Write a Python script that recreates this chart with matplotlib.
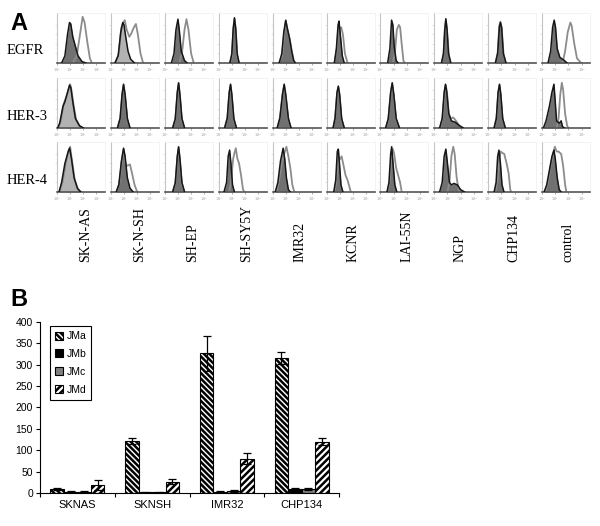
import matplotlib.pyplot as plt
import numpy as np

# ---- panel A: flow histograms (x in decades, y relative) ----
cell_lines = ['SK-N-AS', 'SK-N-SH', 'SH-EP', 'SH-SY5Y', 'IMR32', 'KCNR',
              'LAI-55N', 'NGP', 'CHP134', 'control']
receptors = ['EGFR', 'HER-3', 'HER-4']

egfr_filled = [
    [(0.35, 0), (0.6, 0.15), (0.8, 0.6), (0.95, 0.85), (1.05, 0.82), (1.2, 0.55), (1.4, 0.35), (1.6, 0.15), (1.9, 0.03), (2.2, 0)],
    [(0.3, 0), (0.55, 0.15), (0.75, 0.65), (0.9, 0.85), (1.0, 0.8), (1.1, 0.6), (1.3, 0.25), (1.5, 0.08), (1.8, 0)],
    [(0.5, 0), (0.7, 0.2), (0.85, 0.7), (1.0, 0.92), (1.1, 0.7), (1.25, 0.25), (1.5, 0.05), (1.7, 0)],
    [(0.85, 0), (1.0, 0.2), (1.1, 0.7), (1.2, 0.95), (1.3, 0.7), (1.4, 0.2), (1.55, 0)],
    [(0.5, 0), (0.7, 0.2), (0.85, 0.65), (1.0, 0.9), (1.1, 0.75), (1.3, 0.5), (1.45, 0.25), (1.6, 0.05), (1.75, 0)],
    [(0.6, 0), (0.75, 0.3), (0.88, 0.8), (0.95, 0.88), (1.05, 0.6), (1.2, 0.15), (1.35, 0)],
    [(0.55, 0), (0.72, 0.3), (0.85, 0.9), (0.95, 0.8), (1.05, 0.35), (1.2, 0.05), (1.35, 0)],
    [(0.55, 0), (0.7, 0.2), (0.8, 0.7), (0.88, 0.93), (0.97, 0.7), (1.08, 0.2), (1.25, 0)],
    [(0.55, 0), (0.72, 0.2), (0.85, 0.75), (0.93, 0.85), (1.02, 0.75), (1.15, 0.2), (1.35, 0)],
    [(0.45, 0), (0.65, 0.25), (0.8, 0.75), (0.92, 0.9), (1.02, 0.75), (1.15, 0.3), (1.35, 0.12), (1.55, 0.08), (1.7, 0.05), (1.9, 0)],
]
egfr_open = [
    [(1.2, 0), (1.5, 0.15), (1.75, 0.6), (1.95, 0.97), (2.1, 0.85), (2.3, 0.45), (2.5, 0.1), (2.65, 0)],
    [(0.35, 0), (0.6, 0.2), (0.8, 0.75), (0.95, 0.85), (1.05, 0.9), (1.2, 0.7), (1.4, 0.55), (1.55, 0.62), (1.75, 0.75), (1.9, 0.82), (2.05, 0.6), (2.25, 0.2), (2.45, 0)],
    [(1.1, 0), (1.3, 0.2), (1.5, 0.7), (1.65, 0.92), (1.8, 0.7), (2.0, 0.2), (2.2, 0)],
    [(0.85, 0), (1.0, 0.15), (1.12, 0.75), (1.2, 0.93), (1.28, 0.75), (1.42, 0.15), (1.55, 0)],
    [(0.5, 0), (0.72, 0.15), (0.88, 0.6), (1.0, 0.88), (1.12, 0.72), (1.32, 0.48), (1.48, 0.22), (1.65, 0)],
    [(0.6, 0), (0.78, 0.3), (0.92, 0.75), (1.0, 0.72), (1.12, 0.75), (1.25, 0.6), (1.4, 0.2), (1.6, 0)],
    [(0.95, 0), (1.1, 0.2), (1.25, 0.7), (1.4, 0.8), (1.5, 0.75), (1.62, 0.4), (1.75, 0.05), (1.85, 0)],
    [(0.55, 0), (0.7, 0.18), (0.8, 0.72), (0.88, 0.9), (0.97, 0.68), (1.1, 0.18), (1.25, 0)],
    [(0.55, 0), (0.72, 0.22), (0.84, 0.78), (0.93, 0.87), (1.03, 0.72), (1.17, 0.18), (1.35, 0)],
    [(1.45, 0), (1.6, 0.05), (1.75, 0.25), (1.95, 0.65), (2.15, 0.85), (2.25, 0.78), (2.45, 0.4), (2.65, 0.1), (2.9, 0.02), (3.0, 0)],
]

her3_filled = [
    [(0.05, 0), (0.2, 0.1), (0.45, 0.45), (0.6, 0.55), (0.8, 0.75), (0.95, 0.9), (1.05, 0.85), (1.2, 0.55), (1.4, 0.2), (1.7, 0.05), (2.0, 0)],
    [(0.5, 0), (0.7, 0.2), (0.85, 0.7), (0.96, 0.92), (1.08, 0.7), (1.25, 0.2), (1.45, 0)],
    [(0.6, 0), (0.8, 0.2), (0.95, 0.75), (1.05, 0.95), (1.15, 0.7), (1.3, 0.2), (1.5, 0)],
    [(0.45, 0), (0.65, 0.2), (0.8, 0.75), (0.9, 0.92), (1.0, 0.7), (1.15, 0.2), (1.35, 0)],
    [(0.35, 0), (0.55, 0.2), (0.75, 0.7), (0.88, 0.92), (1.0, 0.7), (1.2, 0.2), (1.4, 0)],
    [(0.5, 0), (0.65, 0.2), (0.8, 0.75), (0.9, 0.88), (1.0, 0.7), (1.15, 0.2), (1.35, 0)],
    [(0.4, 0), (0.6, 0.2), (0.78, 0.75), (0.9, 0.95), (1.02, 0.7), (1.2, 0.2), (1.45, 0)],
    [(0.4, 0), (0.6, 0.2), (0.75, 0.75), (0.85, 0.92), (0.95, 0.75), (1.1, 0.3), (1.3, 0.15), (1.6, 0.12), (1.9, 0.05), (2.2, 0)],
    [(0.45, 0), (0.62, 0.2), (0.75, 0.75), (0.86, 0.92), (0.96, 0.7), (1.1, 0.2), (1.3, 0)],
    [(0.1, 0), (0.3, 0.15), (0.55, 0.45), (0.75, 0.75), (0.9, 0.92), (1.0, 0.55), (1.1, 0.15), (1.3, 0.1), (1.45, 0.15), (1.55, 0.03), (1.7, 0)],
]
her3_open = [
    [(0.1, 0), (0.3, 0.15), (0.5, 0.5), (0.7, 0.65), (0.9, 0.82), (1.0, 0.92), (1.1, 0.8), (1.25, 0.5), (1.45, 0.18), (1.75, 0.03), (2.0, 0)],
    [(0.5, 0), (0.72, 0.22), (0.86, 0.72), (0.97, 0.9), (1.08, 0.68), (1.25, 0.18), (1.45, 0)],
    [(0.6, 0), (0.8, 0.18), (0.95, 0.72), (1.05, 0.93), (1.15, 0.68), (1.3, 0.18), (1.5, 0)],
    [(0.45, 0), (0.66, 0.22), (0.8, 0.72), (0.9, 0.9), (1.0, 0.68), (1.15, 0.18), (1.35, 0)],
    [(0.35, 0), (0.56, 0.22), (0.76, 0.72), (0.88, 0.9), (1.0, 0.68), (1.2, 0.18), (1.4, 0)],
    [(0.5, 0), (0.66, 0.22), (0.8, 0.72), (0.9, 0.86), (1.0, 0.68), (1.15, 0.18), (1.35, 0)],
    [(0.4, 0), (0.6, 0.18), (0.78, 0.72), (0.9, 0.93), (1.02, 0.68), (1.2, 0.18), (1.45, 0)],
    [(0.45, 0), (0.62, 0.2), (0.78, 0.75), (0.88, 0.9), (0.98, 0.7), (1.1, 0.3), (1.25, 0.2), (1.45, 0.22), (1.65, 0.15), (1.9, 0.05), (2.2, 0)],
    [(0.45, 0), (0.63, 0.22), (0.76, 0.72), (0.86, 0.9), (0.96, 0.68), (1.1, 0.18), (1.3, 0)],
    [(1.1, 0), (1.25, 0.2), (1.38, 0.7), (1.5, 0.95), (1.6, 0.8), (1.75, 0.3), (1.9, 0.05), (2.0, 0)],
]

her4_filled = [
    [(0.15, 0), (0.35, 0.2), (0.6, 0.6), (0.85, 0.85), (0.96, 0.92), (1.1, 0.7), (1.3, 0.3), (1.55, 0.08), (1.8, 0)],
    [(0.4, 0), (0.6, 0.15), (0.8, 0.65), (0.96, 0.92), (1.08, 0.75), (1.25, 0.3), (1.45, 0.08), (1.7, 0)],
    [(0.6, 0), (0.8, 0.2), (0.95, 0.75), (1.05, 0.95), (1.15, 0.7), (1.3, 0.2), (1.5, 0)],
    [(0.4, 0), (0.6, 0.2), (0.72, 0.75), (0.83, 0.88), (0.93, 0.6), (1.05, 0.15), (1.2, 0)],
    [(0.2, 0), (0.4, 0.2), (0.6, 0.65), (0.8, 0.92), (0.92, 0.7), (1.05, 0.3), (1.2, 0.05), (1.35, 0)],
    [(0.55, 0), (0.7, 0.25), (0.82, 0.85), (0.9, 0.9), (1.0, 0.55), (1.1, 0.15), (1.25, 0)],
    [(0.5, 0), (0.65, 0.2), (0.78, 0.8), (0.86, 0.95), (0.96, 0.6), (1.1, 0.15), (1.25, 0)],
    [(0.4, 0), (0.6, 0.2), (0.75, 0.75), (0.88, 0.9), (1.0, 0.6), (1.15, 0.2), (1.3, 0.15), (1.5, 0.18), (1.75, 0.15), (2.0, 0.05), (2.3, 0)],
    [(0.45, 0), (0.6, 0.2), (0.72, 0.75), (0.82, 0.88), (0.93, 0.6), (1.05, 0.15), (1.2, 0)],
    [(0.15, 0), (0.35, 0.15), (0.55, 0.45), (0.75, 0.75), (0.9, 0.88), (1.0, 0.7), (1.15, 0.3), (1.3, 0.05), (1.45, 0)],
]
her4_open = [
    [(0.2, 0), (0.45, 0.25), (0.7, 0.65), (0.9, 0.88), (1.0, 0.95), (1.12, 0.7), (1.35, 0.25), (1.6, 0.05), (1.85, 0)],
    [(0.45, 0), (0.65, 0.2), (0.85, 0.7), (0.98, 0.9), (1.1, 0.6), (1.25, 0.55), (1.45, 0.58), (1.6, 0.4), (1.8, 0.15), (2.0, 0)],
    [(0.6, 0), (0.8, 0.18), (0.95, 0.72), (1.05, 0.93), (1.15, 0.68), (1.3, 0.18), (1.5, 0)],
    [(0.8, 0), (0.95, 0.25), (1.1, 0.7), (1.2, 0.82), (1.3, 0.92), (1.42, 0.7), (1.55, 0.6), (1.7, 0.35), (1.85, 0.05), (1.95, 0)],
    [(0.3, 0), (0.5, 0.25), (0.7, 0.6), (0.88, 0.8), (1.05, 0.95), (1.2, 0.75), (1.35, 0.5), (1.5, 0.15), (1.65, 0)],
    [(0.6, 0), (0.75, 0.25), (0.9, 0.65), (1.05, 0.7), (1.15, 0.75), (1.3, 0.55), (1.45, 0.35), (1.6, 0.25), (1.75, 0.1), (1.85, 0)],
    [(0.55, 0), (0.7, 0.2), (0.85, 0.75), (0.95, 0.9), (1.05, 0.8), (1.2, 0.5), (1.35, 0.35), (1.5, 0.2), (1.62, 0)],
    [(1.0, 0), (1.15, 0.2), (1.3, 0.75), (1.44, 0.95), (1.55, 0.8), (1.7, 0.3), (1.85, 0.05), (1.95, 0)],
    [(0.55, 0), (0.7, 0.25), (0.85, 0.7), (0.95, 0.85), (1.08, 0.82), (1.22, 0.8), (1.4, 0.6), (1.55, 0.4), (1.68, 0.05), (1.75, 0)],
    [(0.25, 0), (0.45, 0.2), (0.65, 0.55), (0.85, 0.8), (0.97, 0.95), (1.1, 0.85), (1.25, 0.85), (1.45, 0.8), (1.6, 0.55), (1.75, 0.15), (1.85, 0)],
]

# ---- panel B: bar chart ----
groups = ['SKNAS', 'SKNSH', 'IMR32', 'CHP134']
series_names = ['JMa', 'JMb', 'JMc', 'JMd']
jma = [10, 122, 326, 315]
jmb = [3, 2, 3, 9]
jmc = [3, 2, 5, 10]
jmd = [18, 26, 80, 120]
jma_err = [2, 7, 41, 14]
jmb_err = [1, 1, 1, 2]
jmc_err = [1, 1, 2, 2]
jmd_err = [12, 6, 13, 8]

# styles
light_fill = {(0, 1), (1, 0), (2, 0)}   # (row, col) panels with the paler fill
W, H = 600, 526
plt.rcParams['hatch.linewidth'] = 1.8

fig = plt.figure(figsize=(6, 5.26), dpi=100)


def px_axes(left, top, width, height):
    return fig.add_axes([left / W, 1 - (top + height) / H, width / W, height / H])


rows_filled = [egfr_filled, her3_filled, her4_filled]
rows_open = [egfr_open, her3_open, her4_open]
row_tops = [13, 78, 142]

for r in range(3):
    for c in range(10):
        ax = px_axes(57 + 53.9 * c, row_tops[r], 48, 50)
        fx, fy = zip(*rows_filled[r][c])
        ox, oy = zip(*rows_open[r][c])
        shade = '#b2b2b2' if (r, c) in light_fill else '#717171'
        ax.fill_between(fx, fy, 0, color=shade, lw=0, zorder=1)
        ax.plot(ox, oy, color='#8c8c8c', lw=1.3, zorder=2)
        ax.plot(fx, fy, color='#161616', lw=1.1, zorder=3)
        ax.set_xlim(0, 3.65)
        ax.set_ylim(0, 1.05)
        ax.set_xticks([0, 1, 2, 3])
        ax.set_xticklabels(['$10^0$', '$10^1$', '$10^2$', '$10^3$'], fontsize=2.5, color='#999999')
        ax.set_yticks([0.2, 0.4, 0.6, 0.8])
        ax.set_yticklabels([])
        ax.tick_params(axis='x', length=1.5, width=0.5, color='#888888', pad=1)
        ax.tick_params(axis='y', length=1.2, width=0.4, color='#cccccc')
        ax.spines['bottom'].set_color('#555555')
        ax.spines['bottom'].set_linewidth(1.2)
        ax.spines['left'].set_color('#c4c4c4')
        ax.spines['left'].set_linewidth(0.8)
        for s in ['top', 'right']:
            ax.spines[s].set_color('#efefef')
            ax.spines[s].set_linewidth(0.5)

for r, name in enumerate(receptors):
    fig.text(7 / W, 1 - (row_tops[r] + 38) / H, name, fontsize=10.5,
             family='Liberation Serif', va='center', ha='left')

for c, name in enumerate(cell_lines):
    fig.text((86 + 53.5 * c) / W, 1 - 262 / H, name, rotation=90, fontsize=10,
             family='Liberation Serif', ha='center', va='bottom')

fig.text(10 / W, 1 - 30 / H, 'A', fontsize=17, fontweight='bold',
         family='Liberation Sans', va='baseline')
fig.text(10 / W, 1 - 306 / H, 'B', fontsize=17, fontweight='bold',
         family='Liberation Sans', va='baseline')

# panel B
axb = px_axes(40, 321.7, 299, 171.3)
x = np.arange(len(groups))
offsets = [-0.27, -0.09, 0.09, 0.27]
values = [jma, jmb, jmc, jmd]
errs = [jma_err, jmb_err, jmc_err, jmd_err]
faces = ['white', 'black', '#808080', 'white']
hatches = ['\\' * 6, None, None, '/' * 5]
for i in range(4):
    axb.bar(x + offsets[i], values[i], width=0.18, color=faces[i], edgecolor='black',
            hatch=hatches[i], linewidth=0.8, label=series_names[i], zorder=2)
    axb.errorbar(x + offsets[i], values[i], yerr=errs[i], fmt='none', ecolor='black',
                 elinewidth=0.9, capsize=3, capthick=0.9, zorder=3)

axb.set_xlim(-0.5, 3.5)
axb.set_ylim(0, 400)
axb.set_yticks(range(0, 401, 50))
axb.set_xticks(x)
axb.set_xticklabels(groups)
axb.set_xticks([-0.5, 0.5, 1.5, 2.5, 3.5], minor=True)
axb.tick_params(axis='x', which='major', length=0, pad=5, labelsize=8)
axb.tick_params(axis='x', which='minor', length=3, width=0.8, direction='out')
axb.tick_params(axis='y', length=3, width=0.8, labelsize=7.5, pad=2)
for lab in axb.get_xticklabels() + axb.get_yticklabels():
    lab.set_family('Liberation Sans')
axb.spines['top'].set_visible(False)
axb.spines['right'].set_visible(False)
axb.spines['left'].set_linewidth(0.8)
axb.spines['bottom'].set_linewidth(0.8)

leg = axb.legend(loc='upper left', bbox_to_anchor=(0.033, 0.975), borderaxespad=0,
                 prop={'family': 'Liberation Sans', 'size': 7.5},
                 handlelength=0.8, handleheight=0.8, handletextpad=0.3,
                 labelspacing=0.75, borderpad=0.5, fancybox=False,
                 edgecolor='black', framealpha=1)
leg.get_frame().set_linewidth(0.8)

fig.savefig('out.png', dpi=100)
